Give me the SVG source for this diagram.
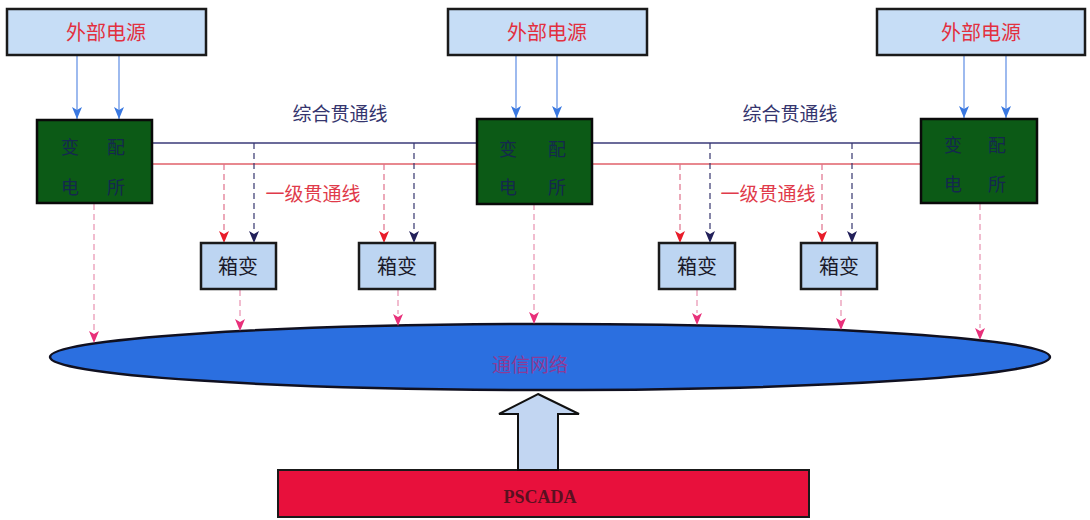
<svg xmlns="http://www.w3.org/2000/svg" width="1090" height="520" viewBox="0 0 1090 520">
<style>
text{font-family:"Liberation Serif","Noto Sans CJK SC",serif;text-anchor:middle;dominant-baseline:central}
.src rect{fill:#c6ddf6;stroke:#1a1a1a;stroke-width:2.5}
.src text{fill:#e2303f;font-size:20px}
.sub rect{fill:#0c5a16;stroke:#0a0a0a;stroke-width:2.5}
.sub text{fill:#14284e;font-size:18px}
.box rect{fill:#bdd5f2;stroke:#1a1a1a;stroke-width:2.5}
.box text{fill:#1a1a2a;font-size:20px}
.lbl-n{fill:#35356e;font-size:19px}
.lbl-r{fill:#e03a4a;font-size:19px}
.feed{stroke:#6a96e6;stroke-width:1.3;fill:none}
.bus-n{stroke:#3a3a78;stroke-width:1.3}
.bus-r{stroke:#e0606a;stroke-width:1.3}
.dr{stroke:#e0708a;stroke-width:1.2;stroke-dasharray:6,4;fill:none}
.dn{stroke:#35356e;stroke-width:1.2;stroke-dasharray:6,4;fill:none}
.dp{stroke:#e890b0;stroke-width:1.2;stroke-dasharray:6,4;fill:none}
</style>

<!-- Network ellipse and PSCADA -->
<g id="network">
<ellipse cx="550" cy="357" rx="500" ry="33" fill="#2b6fe0" stroke="#101020" stroke-width="2.5"/>
<text x="530" y="365" style="fill:#8e3a96;font-size:19px">通信网络</text>
</g>
<g id="pscada">
<rect x="278" y="470" width="531" height="47" fill="#e8103c" stroke="#1a1a1a" stroke-width="2"/>
<text x="540" y="497" style="fill:#5a1020;font-size:18px;font-weight:bold">PSCADA</text>
</g>

<!-- Connectors -->
<g id="connectors">
<!-- feeds from external sources -->
<path class="feed" d="M77,56V119M119,56V119M516,56V118M557,56V118M964,56V118M1006,56V118"/>
<path d="M72,107L77,110L82,107L77,119ZM114,107L119,110L124,107L119,119ZM511,106L516,109L521,106L516,118ZM552,106L557,109L562,106L557,118ZM959,106L964,109L969,106L964,118ZM1001,106L1006,109L1011,106L1006,118Z" fill="#3a78e0"/>
<!-- buses -->
<line class="bus-n" x1="152" y1="143" x2="477" y2="143"/>
<line class="bus-n" x1="592" y1="143" x2="921" y2="143"/>
<line class="bus-r" x1="152" y1="164" x2="477" y2="164"/>
<line class="bus-r" x1="592" y1="164" x2="921" y2="164"/>
<!-- drops to box transformers -->
<path class="dr" d="M224,164V231M384,164V231M680,164V231M822,164V231"/>
<path class="dn" d="M254,143V231M414,143V231M710,143V231M852,143V231"/>
<path d="M219,231L224,234L229,231L224,243ZM379,231L384,234L389,231L384,243ZM675,231L680,234L685,231L680,243ZM817,231L822,234L827,231L822,243Z" fill="#e81c2a"/>
<path d="M249,231L254,234L259,231L254,243ZM409,231L414,234L419,231L414,243ZM705,231L710,234L715,231L710,243ZM847,231L852,234L857,231L852,243Z" fill="#22205a"/>
<!-- drops to network -->
<path class="dp" d="M94,204V331M240,290V319M398,290V314M534,204V312M697,290V313M841,290V318M980,204V328"/>
<path d="M89,331L94,334L99,331L94,343ZM235,319L240,322L245,319L240,331ZM393,314L398,317L403,314L398,326ZM529,312L534,315L539,312L534,324ZM692,313L697,316L702,313L697,325ZM836,318L841,321L846,318L841,330ZM975,328L980,331L985,328L980,340Z" fill="#e8307a"/>
<!-- big up arrow -->
<polygon points="538,394 579,414 558,414 558,470 518,470 518,414 499,414" fill="#c2d6f2" stroke="#111" stroke-width="2"/>
</g>

<!-- line labels -->
<g id="labels">
<text class="lbl-n" x="340" y="114">综合贯通线</text>
<text class="lbl-r" x="313" y="194">一级贯通线</text>
<text class="lbl-n" x="790" y="114">综合贯通线</text>
<text class="lbl-r" x="768" y="194">一级贯通线</text>
</g>

<!-- External sources -->
<g id="src1" class="src"><rect x="7" y="9" width="199" height="46"/><text x="106" y="33">外部电源</text></g>
<g id="src2" class="src"><rect x="448" y="9" width="199" height="46"/><text x="547" y="33">外部电源</text></g>
<g id="src3" class="src"><rect x="877" y="9" width="208" height="46"/><text x="981" y="33">外部电源</text></g>

<!-- Substations -->
<g id="sub1" class="sub"><rect x="37" y="120" width="115" height="83"/>
<text x="70" y="148">变</text><text x="116" y="148">配</text><text x="70" y="188">电</text><text x="116" y="188">所</text></g>
<g id="sub2" class="sub"><rect x="477" y="119" width="115" height="85"/>
<text x="508" y="150">变</text><text x="557" y="150">配</text><text x="508" y="188">电</text><text x="557" y="188">所</text></g>
<g id="sub3" class="sub"><rect x="921" y="119" width="116" height="84"/>
<text x="953" y="146">变</text><text x="997" y="146">配</text><text x="953" y="185">电</text><text x="997" y="185">所</text></g>

<!-- Box transformers -->
<g id="box1" class="box"><rect x="201" y="243" width="75" height="46"/><text x="238" y="267">箱变</text></g>
<g id="box2" class="box"><rect x="359" y="243" width="76" height="46"/><text x="397" y="267">箱变</text></g>
<g id="box3" class="box"><rect x="659" y="243" width="76" height="46"/><text x="697" y="267">箱变</text></g>
<g id="box4" class="box"><rect x="801" y="243" width="76" height="46"/><text x="839" y="267">箱变</text></g>
</svg>
